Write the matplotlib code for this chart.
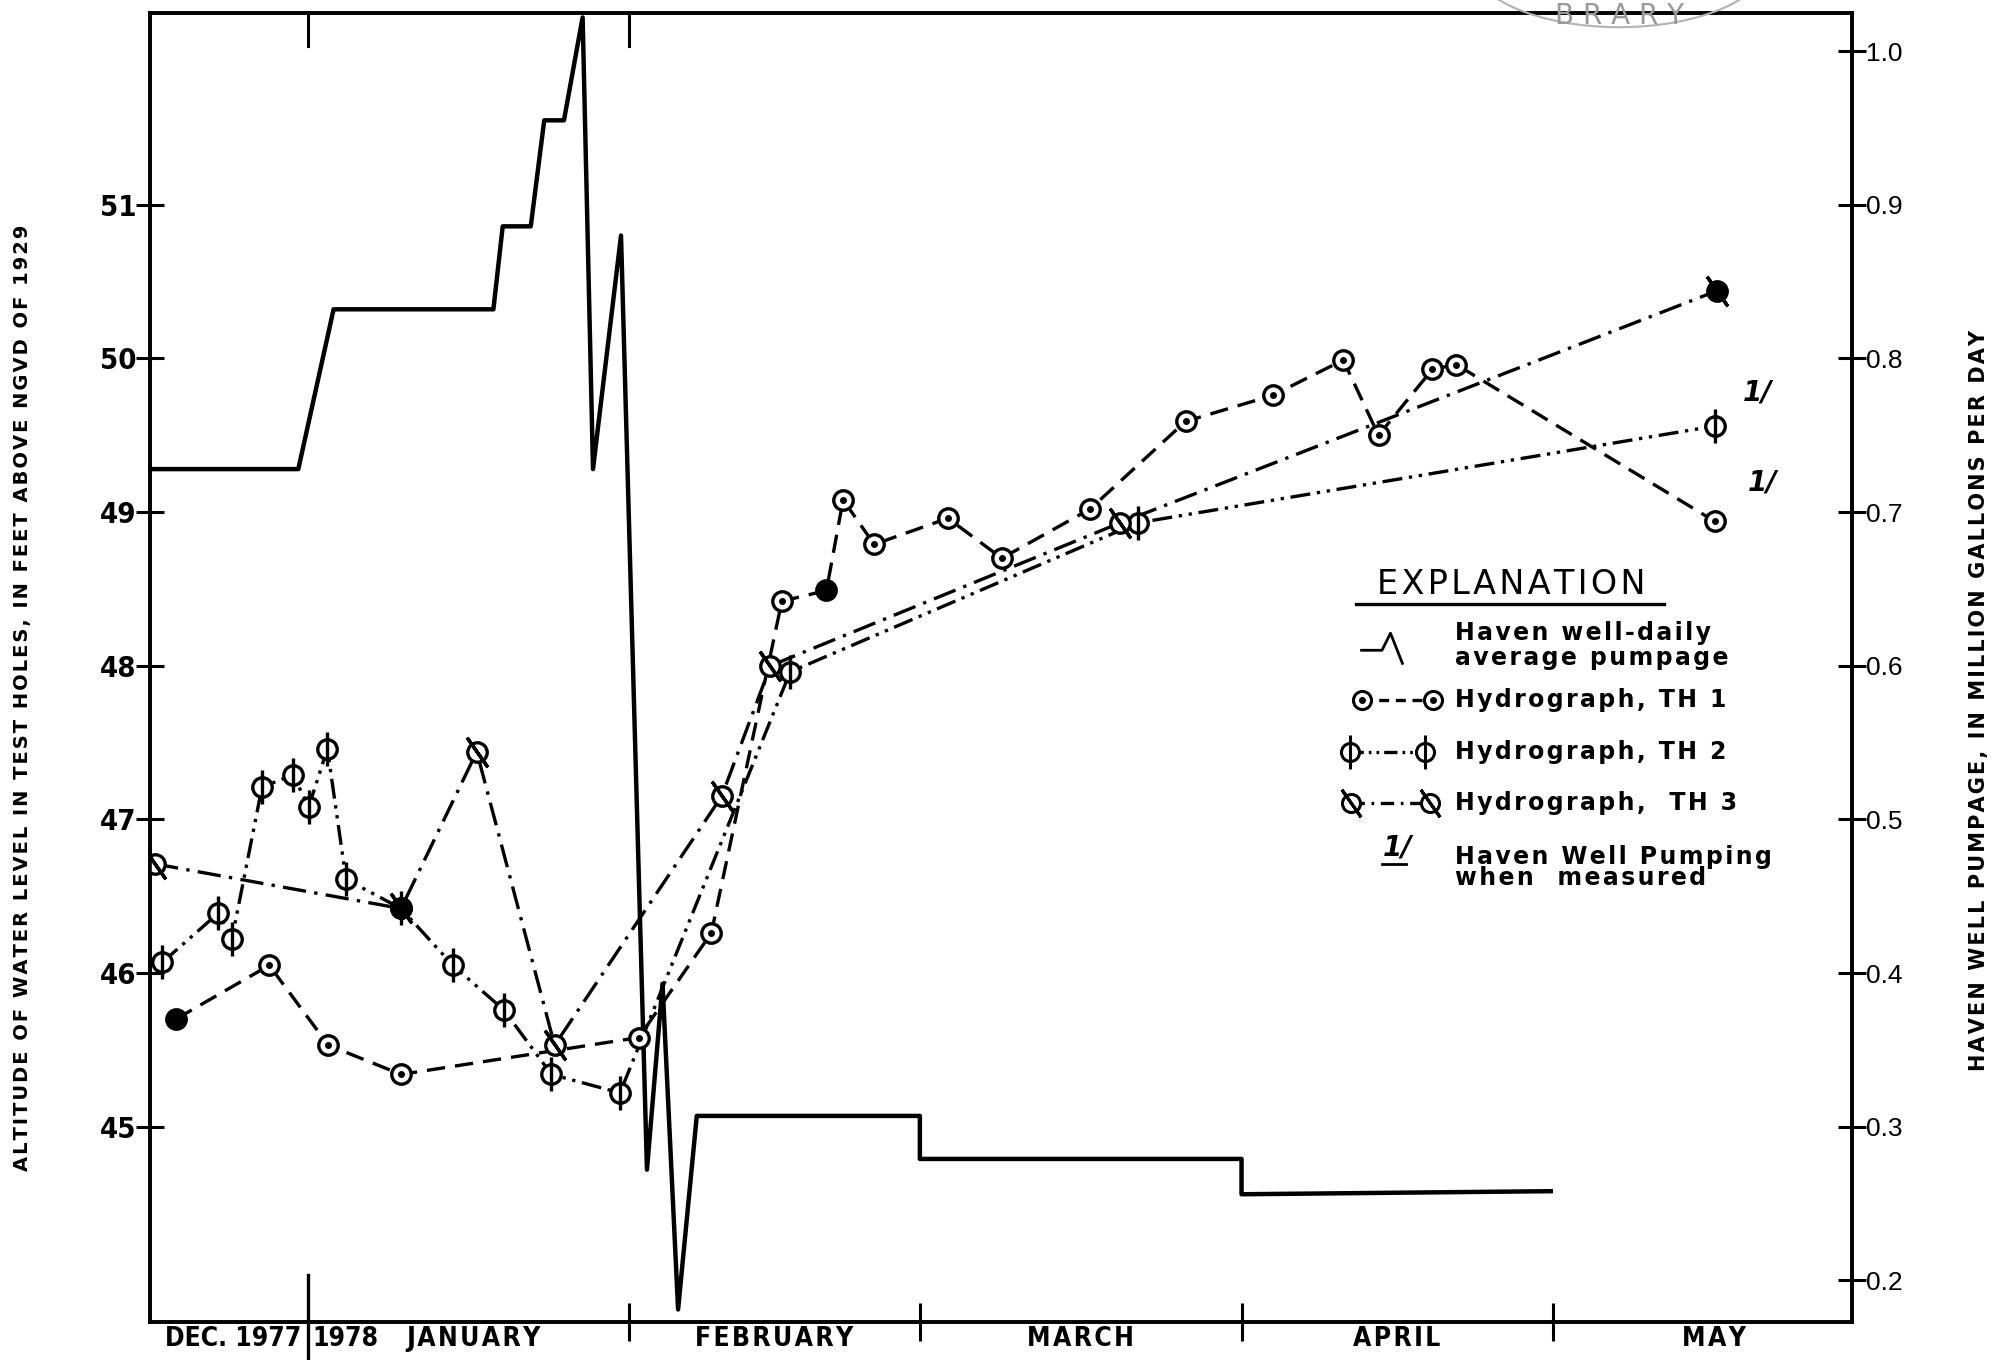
import matplotlib.pyplot as plt
import matplotlib.transforms as mtransforms
from matplotlib.font_manager import FontProperties, findfont
from matplotlib.patches import Arc
import numpy as np

# x = days counted from 1 Jan 1978 (negative days are December 1977)
pump_day = [-15.2, -0.9, 2.5, 17.9, 18.8, 21.5, 22.8, 24.7, 26.5, 27.5, 30.2,
            32.7, 34.2, 35.7, 37.5, 59, 59, 90, 90, 119.8]
pump_mgd = [0.728, 0.728, 0.832, 0.832, 0.886, 0.886, 0.955, 0.955, 1.022, 0.728, 0.880,
            0.272, 0.393, 0.181, 0.307, 0.307, 0.279, 0.279, 0.256, 0.258]

th1_day = [-12.7, -3.7, 2.0, 9.0, 31.9, 38.9, 45.7, 50.0, 51.6, 54.6, 61.7,
           66.9, 75.4, 84.6, 93.0, 99.8, 103.2, 108.4, 110.7, 135.6]
th1_ft = [45.70, 46.05, 45.53, 45.34, 45.58, 46.26, 48.42, 48.49, 49.08, 48.79, 48.96,
          48.70, 49.02, 49.59, 49.76, 49.99, 49.50, 49.93, 49.96, 48.94]
th1_filled = [0, 7]

th2_day = [-14.0, -8.6, -7.3, -4.4, -1.4, 0.1, 1.9, 3.7, 9.0, 14.0, 18.9,
           23.5, 30.1, 46.5, 80.0, 135.6]
th2_ft = [46.07, 46.39, 46.22, 47.21, 47.29, 47.08, 47.46, 46.61, 46.42, 46.05, 45.76,
          45.34, 45.22, 47.96, 48.93, 49.56]

th3_day = [-14.7, 9.0, 16.3, 23.8, 39.9, 44.6, 78.3, 135.8]
th3_ft = [46.71, 46.42, 47.44, 45.53, 47.15, 48.00, 48.93, 50.44]
th3_filled = [1, 7]

month_names = ['JANUARY', 'FEBRUARY', 'MARCH', 'APRIL', 'MAY']
month_start = [0, 31, 59, 90, 120, 151]
left_ticks = [45, 46, 47, 48, 49, 50, 51]
right_ticks = [0.2, 0.3, 0.4, 0.5, 0.6, 0.7, 0.8, 0.9, 1.0]


def spaced(s):
    # widen the letter spacing like the drafted lettering
    return '\u200a'.join(s)


# condensed bold lettering if the system has it
cond = FontProperties(family='DejaVu Sans', weight='bold', stretch='condensed')
has_cond = 'Condensed' in findfont(cond)
lab_font = dict(family='DejaVu Sans', fontweight='bold',
                fontstretch='condensed' if has_cond else 'normal')
lab_size = 19 if has_cond else 16

fig = plt.figure(figsize=(19.99, 13.6), dpi=100)
ax = fig.add_axes([0.075, 0.0281, 0.8513, 0.9625])
ax2 = ax.twinx()
ax.set_zorder(ax2.get_zorder() + 1)
ax.patch.set_visible(False)

ax.set_xlim(-15.2, 148.8)
ax.set_ylim(43.73, 52.25)
ax2.set_ylim(0.173, 1.025)

# pumpage (right axis)
ax2.plot(pump_day, pump_mgd, color='black', lw=3.2, solid_joinstyle='round')

# hydrographs (left axis)
ax.plot(th1_day, th1_ft, color='black', lw=2.4, ls=(0, (5.5, 3)))
ax.plot(th2_day, th2_ft, color='black', lw=2.4, ls=(0, (6, 2, 1, 2, 1, 2)))
ax.plot(th3_day, th3_ft, color='black', lw=2.4, ls=(0, (7, 2.5, 1, 2.5)))

mk = dict(ls='none', mec='black', mew=2.4, ms=14)
th1_face = ['black' if i in th1_filled else 'white' for i in range(len(th1_day))]
th3_face = ['black' if i in th3_filled else 'white' for i in range(len(th3_day))]
for x, y, f in zip(th1_day, th1_ft, th1_face):
    ax.plot(x, y, marker='o', mfc=f, **mk)
ax.plot(th1_day, th1_ft, ls='none', marker='o', ms=4, color='black')

ax.plot(th2_day, th2_ft, marker='o', mfc='white', **mk)
ax.plot(th2_day, th2_ft, ls='none', marker='|', ms=24, mew=2.4, color='black')

for x, y, f in zip(th3_day, th3_ft, th3_face):
    ax.plot(x, y, marker='o', mfc=f, **mk)
ax.plot(th3_day, th3_ft, ls='none', marker=(2, 2, 35), ms=26, mew=2.4, color='black')

# "1/" notes: Haven well pumping when measured
ax.annotate('1/', (th2_day[-1], th2_ft[-1]), xytext=(20, 14), textcoords='offset points',
            fontsize=20, fontweight='bold', style='italic', ha='left', va='bottom')
ax.annotate('1/', (th1_day[-1], th1_ft[-1]), xytext=(24, 18), textcoords='offset points',
            fontsize=20, fontweight='bold', style='italic', ha='left', va='bottom')

# axes frame and ticks
for a in (ax, ax2):
    for s in a.spines.values():
        s.set_linewidth(2.6)
ax.set_yticks(left_ticks)
ax.set_yticklabels([str(v) for v in left_ticks], fontsize=lab_size + 2, **lab_font)
ax.tick_params(axis='y', direction='inout', length=20, width=2.2, pad=0)
ax2.set_yticks(right_ticks)
ax2.set_yticklabels(['%.1f' % v for v in right_ticks], family=['Liberation Sans', 'DejaVu Sans'],
                    fontsize=19)
ax2.tick_params(axis='y', direction='inout', length=20, width=2.2, pad=0)

ax.set_xticks(month_start[1:5])
ax.set_xticklabels([])
ax.tick_params(axis='x', direction='inout', length=28, width=2.2)

xa = mtransforms.blended_transform_factory(ax.transData, ax.transAxes)
# year boundary line and top ticks
ax.plot([0, 0], [0.036, -0.03], color='black', lw=2.4, transform=xa, clip_on=False)
for d in month_start[0:2]:
    ax.plot([d, d], [1.0, 0.975], color='black', lw=2.2, transform=xa, clip_on=False)

# month labels
ax.text(-0.6, -0.013, 'DEC. 1977', transform=xa, ha='right', va='center',
        fontsize=lab_size, **lab_font)
ax.text(0.5, -0.013, '1978', transform=xa, ha='left', va='center',
        fontsize=lab_size, **lab_font)
for i, name in enumerate(month_names):
    mid = (month_start[i] + month_start[i + 1]) / 2
    if i == 0:
        mid += 0.5
    ax.text(mid, -0.013, spaced(name), transform=xa, ha='center', va='center',
            fontsize=lab_size, **lab_font)

# axis titles
fig.text(0.0115, 0.487, spaced('ALTITUDE OF WATER LEVEL IN TEST HOLES, IN FEET ABOVE NGVD OF 1929'),
         rotation=90, ha='center', va='center', fontsize=14, fontweight='bold')
fig.text(0.990, 0.485, spaced('HAVEN WELL PUMPAGE, IN MILLION GALLONS PER DAY'),
         rotation=90, ha='center', va='center', fontsize=15, fontweight='bold')

# explanation block
ta = ax.transAxes
ax.text(0.800, 0.551, spaced('EXPLANATION'), transform=ta, ha='center', va='bottom', fontsize=24)
ax.plot([0.709, 0.890], [0.548, 0.548], transform=ta, color='black', lw=2.4)
ax.plot([0.712, 0.724, 0.729, 0.736], [0.513, 0.513, 0.526, 0.503], transform=ta,
        color='black', lw=2)
ax.text(0.767, 0.517, spaced('Haven well-daily') + '\n' + spaced('average pumpage'),
        transform=ta, ha='left', va='center', fontsize=17, fontweight='bold', linespacing=1.05)

ax.plot([0.712, 0.754], [0.475, 0.475], transform=ta, color='black', lw=2.4, ls=(0, (3, 2)))
ax.plot([0.712, 0.754], [0.475, 0.475], transform=ta, ls='none', marker='o', mfc='white',
        mec='black', mew=2.2, ms=13)
ax.plot([0.712, 0.754], [0.475, 0.475], transform=ta, ls='none', marker='o', ms=4, color='black')
ax.text(0.767, 0.475, spaced('Hydrograph, TH 1'), transform=ta, ha='left', va='center',
        fontsize=17, fontweight='bold')

ax.plot([0.705, 0.749], [0.435, 0.435], transform=ta, color='black', lw=2.4,
        ls=(0, (4, 1.5, 0.8, 1.5, 0.8, 1.5)))
ax.plot([0.705, 0.749], [0.435, 0.435], transform=ta, ls='none', marker='o', mfc='white',
        mec='black', mew=2.2, ms=13)
ax.plot([0.705, 0.749], [0.435, 0.435], transform=ta, ls='none', marker='|', ms=24,
        mew=2.2, color='black')
ax.text(0.767, 0.435, spaced('Hydrograph, TH 2'), transform=ta, ha='left', va='center',
        fontsize=17, fontweight='bold')

ax.plot([0.706, 0.752], [0.396, 0.396], transform=ta, color='black', lw=2.4,
        ls=(0, (4, 2, 0.8, 2)))
ax.plot([0.706, 0.752], [0.396, 0.396], transform=ta, ls='none', marker='o', mfc='white',
        mec='black', mew=2.2, ms=13)
ax.plot([0.706, 0.752], [0.396, 0.396], transform=ta, ls='none', marker=(2, 2, 35), ms=24,
        mew=2.2, color='black')
ax.text(0.767, 0.396, spaced('Hydrograph,  TH 3'), transform=ta, ha='left', va='center',
        fontsize=17, fontweight='bold')

ax.text(0.733, 0.352, '1/', transform=ta, ha='center', va='bottom', fontsize=20,
        fontweight='bold', style='italic')
ax.plot([0.724, 0.738], [0.350, 0.350], transform=ta, color='black', lw=2)
ax.text(0.767, 0.347, spaced('Haven Well Pumping') + '\n' + spaced('when  measured'),
        transform=ta, ha='left', va='center', fontsize=17, fontweight='bold', linespacing=0.85)

# faint library stamp at the top edge of the scan
fig.text(0.81, 0.988, 'B R A R Y', color='0.6', fontsize=20, ha='center', va='center')
fig.patches.append(Arc((0.81, 1.03), 0.15, 0.10, theta1=180, theta2=360,
                       transform=fig.transFigure, color='0.7', lw=1.5))

fig.savefig('out.png', dpi=100)
